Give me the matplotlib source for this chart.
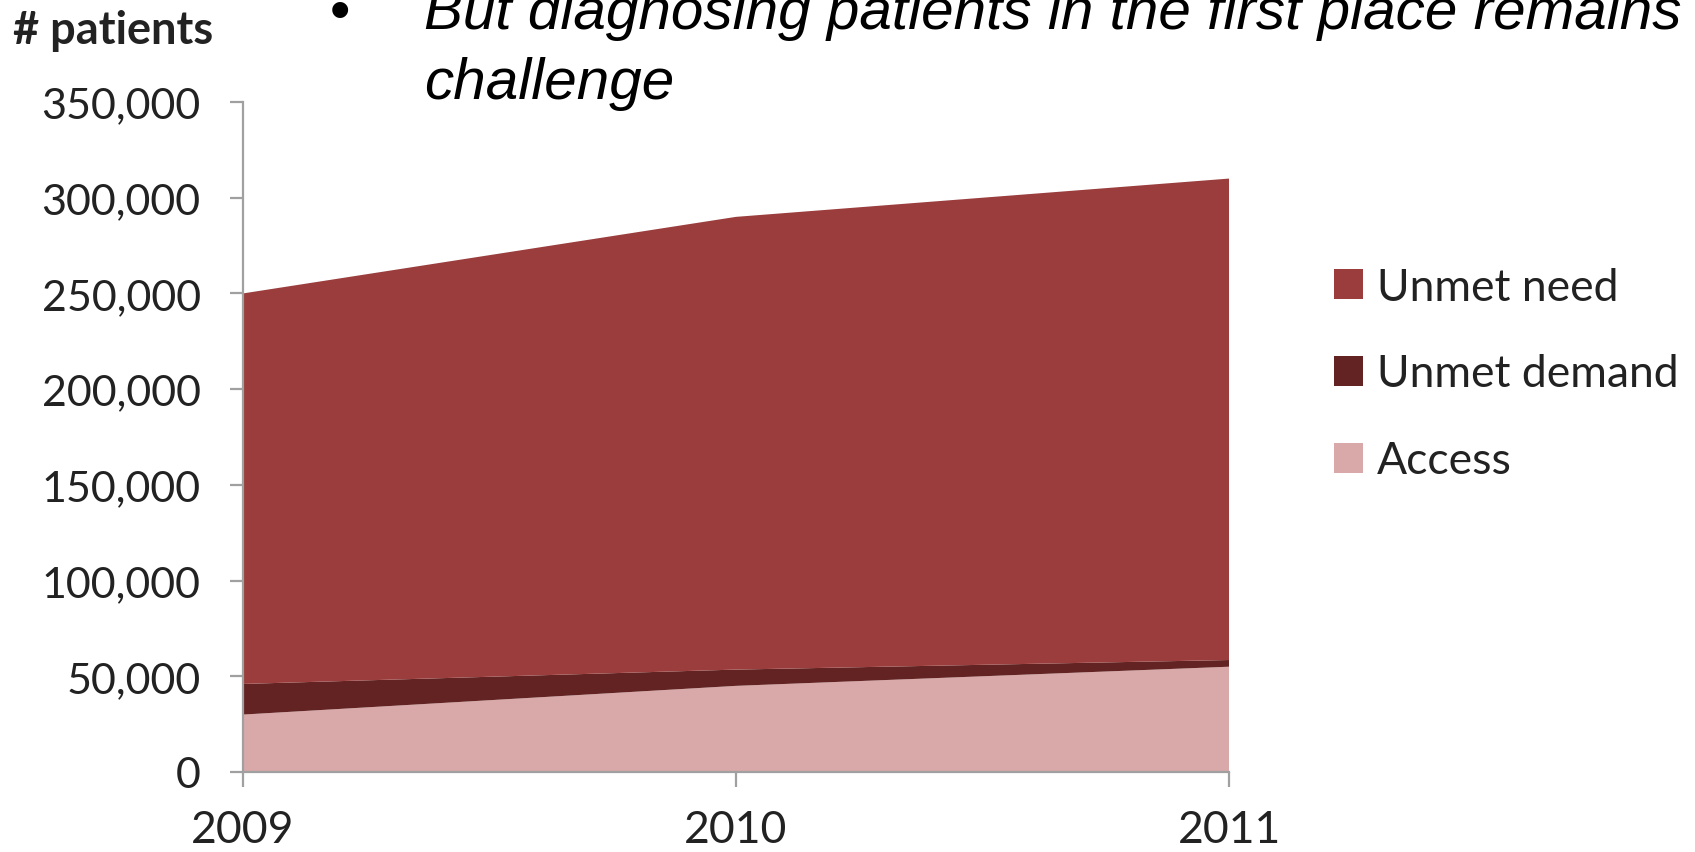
import numpy as np
import matplotlib.pyplot as plt
from matplotlib.patches import Patch
from matplotlib.ticker import FuncFormatter

# ---------- Data ----------
years = [2009, 2010, 2011]
access = [30000, 45000, 55000]
unmet_demand = [16000, 8500, 3500]
unmet_need = [204000, 236500, 251500]

labels = ['Access', 'Unmet demand', 'Unmet need']
colors = ['#D9A8A8', '#632322', '#9B3D3C']

yticks = list(range(0, 350001, 50000))

# ---------- Figure ----------
W, H = 1695, 853
fig = plt.figure(figsize=(W / 100, H / 100), dpi=100)
ax = fig.add_axes([243 / W, 1 - 773 / H, (1229 - 243) / W, (773 - 103) / H])

ax.stackplot(years, access, unmet_demand, unmet_need, colors=colors,
             linewidth=0, edgecolor='none')

ax.set_xlim(years[0], years[-1])
ax.set_ylim(0, 350000)
ax.set_xticks(years)
ax.set_yticks(yticks)
ax.yaxis.set_major_formatter(FuncFormatter(lambda v, p: f'{int(v):,}'))

for s in ['top', 'right']:
    ax.spines[s].set_visible(False)
for s in ['left', 'bottom']:
    ax.spines[s].set_color('#A0A0A0')
    ax.spines[s].set_linewidth(1.6)
    ax.spines[s].set_zorder(5)

ax.tick_params(axis='y', length=9.5, width=1.6, color='#A0A0A0', pad=21,
               labelsize=31, labelcolor='#222222')
ax.tick_params(axis='x', length=11, width=1.6, color='#A0A0A0', pad=16,
               labelsize=32, labelcolor='#222222')
for lbl in ax.get_xticklabels() + ax.get_yticklabels():
    lbl.set_fontfamily('Lato')

# legend (order: need, demand, access)
handles = [Patch(facecolor=colors[i], edgecolor='none') for i in [2, 1, 0]]
leg = fig.legend(handles, [labels[i] for i in [2, 1, 0]],
                 loc='center left', bbox_to_anchor=(1334 / W, 1 - 375 / H),
                 frameon=False, borderpad=0, borderaxespad=0,
                 handlelength=0.66, handleheight=0.66, handletextpad=0.3,
                 labelspacing=1.03, prop={'family': 'Lato', 'size': 32})
for t in leg.get_texts():
    t.set_color('#222222')

# texts
fig.text(13 / W, 1 - 44 / H, '# patients', family='Lato', weight='bold',
         fontsize=32.5, color='#222222', va='baseline', ha='left')
fig.text(330 / W, 1 - 29 / H, '\u2022', family='Liberation Sans',
         fontsize=42, va='baseline', ha='left')
fig.text(424 / W, 1 - 29 / H, 'But diagnosing patients in the first place remains',
         family='Liberation Sans', style='italic', fontsize=42,
         va='baseline', ha='left')
fig.text(424 / W, 1 - 99 / H, 'challenge', family='Liberation Sans',
         style='italic', fontsize=42, va='baseline', ha='left')

fig.savefig('out.png', dpi=100)
